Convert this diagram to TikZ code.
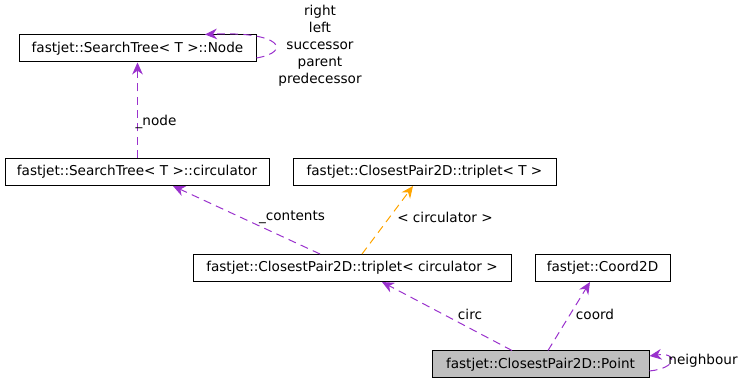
\documentclass[tikz,border=0pt]{standalone}
\usepackage{fontspec}
\setmainfont{DejaVu Sans}
\usetikzlibrary{positioning,arrows.meta}
\definecolor{edgepurple}{HTML}{9A32CD}
\definecolor{edgeorange}{HTML}{FFA500}
\definecolor{boxgray}{HTML}{BFBFBF}

\begin{document}
\begin{tikzpicture}[
	x=0.75pt, y=-0.75pt,
	cls/.style={rectangle, draw=black, line width=0.75pt, fill=white, inner sep=0pt,
		minimum height=20.25pt, font=\fontsize{10.2}{12.75}\selectfont},
	lbl/.style={font=\fontsize{10.2}{12.75}\selectfont, inner sep=0pt, align=center},
	uses/.style={draw=edgepurple, line width=0.75pt, dash pattern=on 6pt off 4pt,
		-{Stealth[length=9pt,width=8pt]}},
	templ/.style={uses, draw=edgeorange}
	]
	\useasboundingbox (0,0) rectangle (743,384);
	% classes
	\node[cls, minimum width=177.75pt] (node) at (137.5,48.5) {fastjet::SearchTree< T >::Node};
	\node[cls, minimum width=198pt] (circ) at (137,172) {fastjet::SearchTree< T >::circulator};
	\node[cls, minimum width=197.25pt] (tripT) at (424.5,172) {fastjet::ClosestPair2D::triplet< T >};
	\node[cls, minimum width=238.5pt] (tripC) at (352,268) {fastjet::ClosestPair2D::triplet< circulator >};
	\node[cls, minimum width=101.25pt] (coord) at (602.5,268) {fastjet::Coord2D};
	\node[cls, fill=boxgray, minimum width=162.75pt] (point) at (540.5,364.5) {fastjet::ClosestPair2D::Point};
	% edges
	\draw[uses] (circ.north -| 137.5,0) -- (node.south -| 137.5,0);
	\draw[uses] (node.east |- 0,58) .. controls (292,52) and (282,31) .. (205,34.5);
	\draw[uses] (tripC.north -| 320,0) -- (circ.south -| 173,0);
	\draw[templ] (tripC.north -| 362,0) -- (tripT.south -| 413,0);
	\draw[uses] (point.north -| 512,0) -- (tripC.south -| 382,0);
	\draw[uses] (point.north -| 548,0) -- (coord.south -| 590,0);
	\draw[uses] (point.east |- 0,371) .. controls (678,368) and (678,352) .. (649.5,356);
	% edge labels
	\node[lbl] (lnode) at (156,122) {\_node};
	\node[lbl] (lloop) at (320,46) {right\\left\\successor\\parent\\predecessor};
	\node[lbl] (lcont) at (292,217) {\_contents};
	\node[lbl] (ltempl) at (445,217) {< circulator >};
	\node[lbl] (lcirc) at (470,314) {circ};
	\node[lbl] (lcoord) at (595,314) {coord};
	\node[lbl] (lneigh) at (703,361) {neighbour};
\end{tikzpicture}
\end{document}
